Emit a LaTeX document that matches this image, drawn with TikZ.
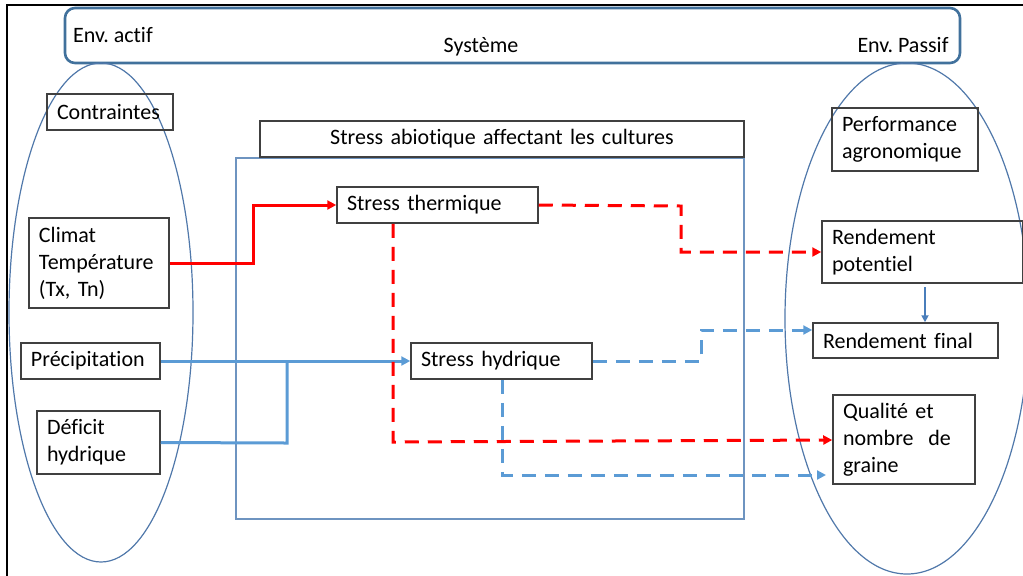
\documentclass[tikz,border=0pt]{standalone}
\usepackage{fontspec}
\setmainfont{Carlito}[Ligatures=NoCommon]
\frenchspacing
\usetikzlibrary{arrows.meta}
\definecolor{frameblue}{RGB}{65,113,156}
\definecolor{ellblue}{RGB}{80,120,170}
\definecolor{rectblue}{RGB}{110,148,192}
\definecolor{linkblue}{RGB}{91,155,213}
\definecolor{arrblue}{RGB}{74,126,187}
\definecolor{boxgray}{RGB}{64,64,64}
\definecolor{linkred}{RGB}{255,0,0}
\begin{document}
\begin{tikzpicture}[x=0.5pt,y=-0.5pt,
  every node/.style={font=\fontsize{11}{13.5}\selectfont},
  tbox/.style={draw=boxgray,line width=0.75pt,inner xsep=5pt,inner ysep=0pt,align=left},
  redlink/.style={draw=linkred,line width=1.5pt},
  bluelink/.style={draw=linkblue,line width=1.5pt},
  dashlink/.style={dash pattern=on 7pt off 4.5pt},
  tip/.style={-{Triangle[length=4.5pt,width=4.5pt]}}]
\useasboundingbox (0,0) rectangle (1023,575);
% outer frame (left and top edges)
\draw[black,line width=1.2pt] (7,580) -- (7,5) -- (1030,5);
% systeme
\draw[frameblue,line width=1.3pt,rounded corners=5pt] (65,8) rectangle (960,63);
\node (envA) at (113,35) {Env. actif};
\node (sys) at (481,47) {Système};
\node (envP) at (903,45) {Env. Passif};
% ellipses
\draw[ellblue,line width=0.6pt] (101,312.5) ellipse [x radius=92, y radius=249.5];
\draw[ellblue,line width=0.6pt] (907,318.5) ellipse [x radius=122, y radius=255.5];
% inner rectangle
\draw[rectblue,line width=0.8pt] (236,158) rectangle (744,519);
% boxes
\node[tbox,text width=106*0.5pt,minimum height=18pt] (contr) at (110,112) {Contraintes};
\node[tbox,text width=126*0.5pt,minimum height=31.5pt] (perf) at (905,139.5) {Performance\\agronomique};
\node[tbox,align=center,text width=464*0.5pt,minimum height=18pt] (abio) at (502,139) {Stress abiotique affectant les cultures};
\node[tbox,text width=120*0.5pt,minimum height=45pt] (clim) at (99,263) {Climat\\Température\\(Tx, Tn)};
\node[tbox,text width=119*0.5pt,minimum height=18pt] (prec) at (90.5,361) {Précipitation};
\node[tbox,text width=103*0.5pt,minimum height=31.5pt] (defi) at (98.5,442.5) {Déficit\\hydrique};
\node[tbox,text width=181*0.5pt,minimum height=18pt] (sth) at (437.5,205) {Stress thermique};
\node[tbox,text width=161*0.5pt,minimum height=18pt] (shy) at (501.5,361) {Stress hydrique};
\node[tbox,text width=181*0.5pt,minimum height=31pt] (rpot) at (922.5,252) {Rendement\\potentiel};
\node[tbox,text width=165*0.5pt,minimum height=17.5pt] (rfin) at (905.5,340.5) {Rendement final};
\node[tbox,text width=122*0.5pt,minimum height=44.5pt] (qual) at (904,439.5) {Qualité et\\nombre\ \ de\\graine};
% coordinates
\coordinate (qblue) at (826,475);
% solid links
\draw[redlink,tip] (clim.east) -- (253,263) |- (sth.west);
\draw[bluelink,tip] (prec.east) -- (shy.west);
\draw[bluelink] (defi.east) -- (287,443) -- (287,361);
% dashed links
\draw[redlink,dashlink,tip] (sth.east) -- (681,206) |- (rpot.west);
\draw[redlink,dashlink,tip] (sth.south -| 393,0) -- (393,442) -- (qual.west |- 0,440);
\draw[bluelink,dashlink,tip] (shy.east) -- (701,361) |- (rfin.west |- 0,330);
\draw[bluelink,dashlink,tip] (shy.south -| 502,0) |- (qblue);
% rendement arrow
\draw[arrblue,line width=1pt,-{Triangle[length=3.5pt,width=3.5pt]}] (925,287) -- (rfin.north -| 925,0);
\end{tikzpicture}
\end{document}
